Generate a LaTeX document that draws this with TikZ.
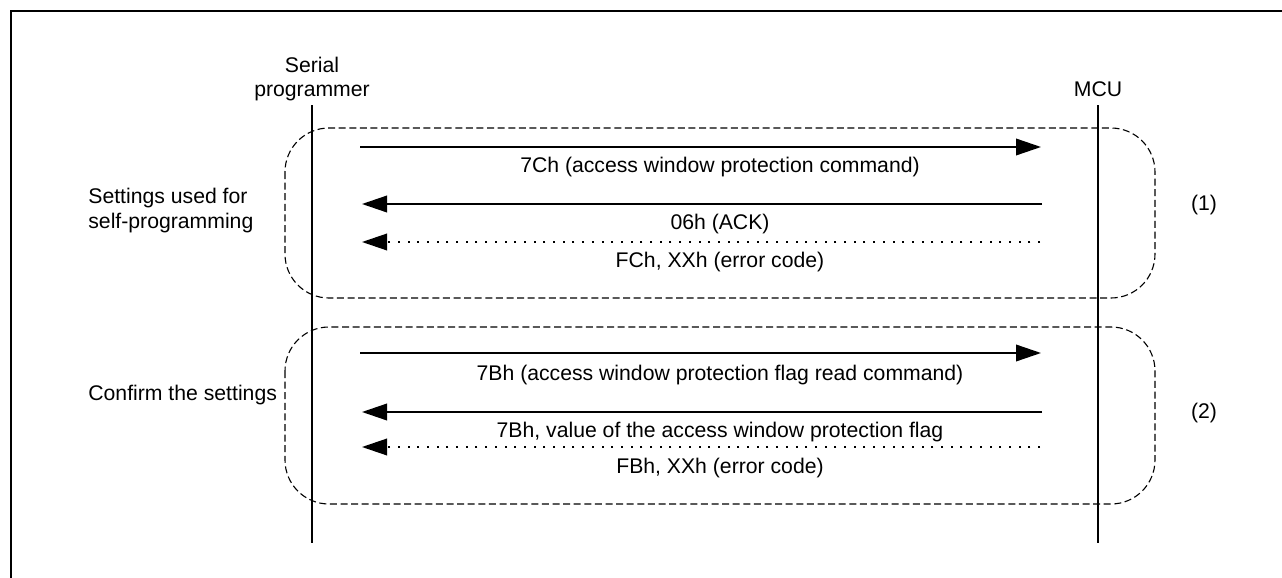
\documentclass[tikz,border=0pt]{standalone}
\usepackage{fontspec}
\setmainfont{Liberation Sans}
\usetikzlibrary{arrows.meta, positioning}

\begin{document}
\begin{tikzpicture}[x=0.5pt, y=-0.5pt, inner sep=0pt,
  font=\fontsize{10.6}{12.5}\selectfont]

  % Styles
  \tikzset{
    msg/.style={-{Triangle[length=12.5pt, width=8.3pt]}, line width=0.85pt},
    errmsg/.style={msg, line width=0.8pt, dash pattern=on 1pt off 3.85pt},
    lifeline/.style={line width=1pt},
    group/.style={line width=0.55pt, dash pattern=on 3.5pt off 1.8pt, rounded corners=22pt},
    msglabel/.style={anchor=base}
  }

  \useasboundingbox (0,0) rectangle (1282,578);

  % Frame (top and left edge)
  \draw[line width=1.35pt] (11,600) -- (11,11) -- (1300,11);

  % Lifelines
  \node[anchor=base, align=center] (prog) at (312,97) {Serial\\programmer};
  \node[anchor=base] (mcu) at (1098,97) {MCU};
  \coordinate (prog top) at (312,105);
  \coordinate (prog bot) at (312,543);
  \coordinate (mcu top) at (1098,105);
  \coordinate (mcu bot) at (1098,543);
  \draw[lifeline] (prog top) -- (prog bot);
  \draw[lifeline] (mcu top) -- (mcu bot);

  % Group (1)
  \draw[group] (285,128) rectangle (1155,298);
  \node[anchor=base west, align=left] (selfprog) at (88,228) {Settings used for\\self-programming};
  \node[anchor=base] (grp1) at (1204,210) {(1)};

  \coordinate (p1) at (360,147);  \coordinate (m1) at (1041,147);
  \coordinate (m2) at (1042,204); \coordinate (p2) at (362,204);
  \coordinate (m3) at (1040,242); \coordinate (p3) at (362,242);
  \draw[msg] (p1) -- (m1);
  \draw[msg] (m2) -- (p2);
  \draw[errmsg] (m3) -- (p3);
  \node[msglabel] (cmd1) at (720,172) {7Ch (access window protection command)};
  \node[msglabel] (ack1) at (720,229) {06h (ACK)};
  \node[msglabel] (err1) at (720,267) {FCh, XXh (error code)};

  % Group (2)
  \draw[group] (285,327) rectangle (1155,504);
  \node[anchor=base west] (confirm) at (88,400) {Confirm the settings};
  \node[anchor=base] (grp2) at (1204,418) {(2)};

  \coordinate (p4) at (360,353);  \coordinate (m4) at (1041,353);
  \coordinate (m5) at (1042,412); \coordinate (p5) at (362,412);
  \coordinate (m6) at (1040,447); \coordinate (p6) at (362,447);
  \draw[msg] (p4) -- (m4);
  \draw[msg] (m5) -- (p5);
  \draw[errmsg] (m6) -- (p6);
  \node[msglabel] (cmd2) at (720,380) {7Bh (access window protection flag read command)};
  \node[msglabel] (val2) at (720,437) {7Bh, value of the access window protection flag};
  \node[msglabel] (err2) at (720,473) {FBh, XXh (error code)};

\end{tikzpicture}
\end{document}
